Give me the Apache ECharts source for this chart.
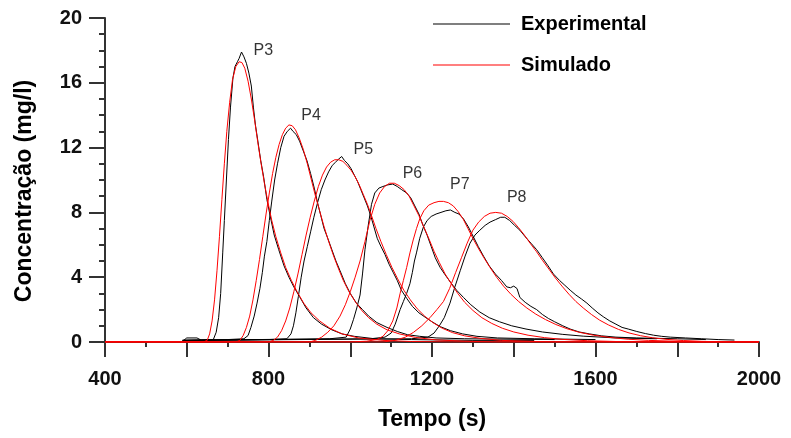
<!DOCTYPE html>
<html>
<head>
<meta charset="utf-8">
<script src="https://cdn.jsdelivr.net/npm/echarts@6/dist/echarts.min.js"></script>
<style>
  html, body { margin: 0; padding: 0; background: #fff; }
  #chart { width: 791px; height: 438px; }
</style>
</head>
<body>
<div id="chart"></div>
<script>
// Tracer breakthrough curves, points P3..P8: measured vs simulated concentration.
// Each curve is a list of [time (s), concentration (mg/l)] pairs.

const expP3 = [[590,0.05],[600,0.25],[625,0.25],[635,0.12],[665,0.15],[672,0.6],[678,1.5],[683,3],[688,5.5],[692,7.5],[697,10],[702,12.5],[707,14.5],[713,16.3],[718,17.0],[724,17.3],[728,17.5],[734,17.9],[740,17.6],[746,17.2],[752,16.6],[758,15.8],[763,14.5],[768,13.4],[774,12.4],[781,11.2],[788,10.2],[796,8.8],[804,7.8],[814,6.6],[825,5.7],[838,4.7],[850,4.0],[862,3.4],[876,2.8],[892,2.1],[910,1.5],[930,1.1],[955,0.75],[980,0.5],[1010,0.35],[1060,0.2],[1150,0.15],[1300,0.1],[1450,0.1]];
const simP3 = [[400,0],[640,0],[650,0.1],[656,0.5],[662,1.3],[668,2.6],[674,4.4],[680,6.5],[686,8.8],[692,11.0],[698,13.0],[705,14.8],[712,16.2],[720,17.0],[728,17.3],[735,17.25],[742,16.9],[750,16.1],[758,15.0],[766,13.7],[774,12.3],[782,11.0],[790,9.8],[798,8.7],[808,7.5],[818,6.5],[830,5.5],[842,4.6],[856,3.8],[870,3.1],[886,2.4],[904,1.8],[925,1.3],[950,0.85],[980,0.5],[1020,0.25],[1080,0.1],[1150,0.03],[1250,0],[2000,0]];

const expP4 = [[590,0.1],[700,0.15],[740,0.2],[750,0.4],[757,0.9],[765,1.6],[772,2.4],[779,3.3],[785,4.3],[790,5.3],[796,6.2],[802,7.5],[808,8.7],[815,10.0],[822,11.0],[830,12.0],[838,12.7],[846,13.0],[854,13.2],[860,13.0],[868,12.8],[876,12.4],[885,11.8],[894,11.2],[903,10.4],[912,9.5],[920,8.6],[928,7.8],[936,7.0],[945,6.4],[955,5.7],[965,5.0],[975,4.4],[988,3.6],[1000,3.0],[1015,2.4],[1030,2.0],[1045,1.6],[1065,1.2],[1090,0.9],[1115,0.65],[1140,0.45],[1170,0.35],[1210,0.25],[1280,0.2],[1500,0.15]];
const simP4 = [[400,0],[720,0],[730,0.1],[738,0.4],[746,0.9],[754,1.6],[762,2.6],[770,3.8],[778,5.1],[786,6.5],[794,7.9],[802,9.2],[810,10.4],[818,11.4],[826,12.2],[834,12.8],[842,13.2],[850,13.4],[858,13.35],[866,13.1],[875,12.6],[885,11.9],[895,11.0],[905,10.0],[915,9.0],[925,8.1],[935,7.2],[946,6.3],[958,5.4],[970,4.6],[983,3.8],[997,3.1],[1012,2.5],[1028,1.95],[1045,1.5],[1065,1.1],[1090,0.75],[1120,0.5],[1160,0.28],[1210,0.13],[1280,0.05],[1350,0],[2000,0]];

const expP5 = [[590,0.1],[800,0.15],[845,0.2],[855,0.5],[861,1.0],[867,1.8],[873,2.8],[880,4.0],[887,5.0],[895,5.9],[903,6.8],[911,7.7],[920,8.6],[929,9.4],[938,10.0],[947,10.5],[956,10.9],[964,11.1],[972,11.3],[979,11.45],[986,11.2],[994,11.0],[1002,10.7],[1010,10.3],[1018,9.9],[1026,9.4],[1034,8.9],[1042,8.4],[1050,7.8],[1058,7.1],[1066,6.4],[1075,5.9],[1085,5.4],[1095,4.8],[1105,4.3],[1115,3.8],[1125,3.2],[1138,2.7],[1152,2.2],[1168,1.8],[1185,1.5],[1200,1.25],[1220,0.95],[1245,0.7],[1275,0.5],[1310,0.35],[1360,0.25],[1450,0.2],[1600,0.15]];
const simP5 = [[400,0],[800,0],[812,0.1],[822,0.3],[832,0.7],[842,1.3],[852,2.1],[862,3.1],[872,4.2],[882,5.4],[892,6.6],[902,7.7],[912,8.7],[922,9.6],[932,10.3],[942,10.8],[952,11.1],[962,11.25],[972,11.25],[982,11.15],[992,10.9],[1002,10.6],[1012,10.2],[1022,9.7],[1032,9.1],[1042,8.5],[1052,7.8],[1063,7.0],[1075,6.2],[1088,5.4],[1102,4.6],[1116,3.9],[1131,3.2],[1147,2.6],[1164,2.05],[1182,1.6],[1202,1.2],[1225,0.85],[1250,0.58],[1280,0.38],[1320,0.22],[1370,0.1],[1440,0.04],[1500,0],[2000,0]];

const expP6 = [[590,0.1],[950,0.2],[990,0.3],[1000,0.8],[1008,1.4],[1016,2.1],[1024,2.9],[1030,4.2],[1036,5.7],[1044,7.2],[1052,8.5],[1060,9.2],[1070,9.5],[1080,9.6],[1092,9.7],[1104,9.75],[1115,9.6],[1126,9.4],[1138,9.2],[1148,8.9],[1158,8.4],[1168,7.9],[1178,7.2],[1188,6.6],[1198,5.9],[1208,5.2],[1220,4.6],[1232,4.15],[1245,3.7],[1260,3.2],[1277,2.75],[1295,2.3],[1317,1.85],[1340,1.5],[1365,1.25],[1395,1.0],[1430,0.8],[1470,0.62],[1520,0.47],[1570,0.36],[1650,0.25],[1750,0.2]];
const simP6 = [[400,0],[900,0],[915,0.1],[930,0.3],[945,0.6],[960,1.0],[975,1.6],[988,2.3],[1000,3.1],[1012,4.0],[1024,5.0],[1036,6.2],[1048,7.5],[1060,8.5],[1072,9.2],[1084,9.6],[1096,9.8],[1108,9.8],[1120,9.65],[1132,9.4],[1144,9.0],[1156,8.4],[1168,7.8],[1180,7.1],[1192,6.4],[1205,5.6],[1218,4.9],[1232,4.2],[1247,3.6],[1263,3.0],[1280,2.45],[1300,1.95],[1322,1.5],[1346,1.15],[1372,0.85],[1400,0.62],[1435,0.42],[1475,0.27],[1520,0.16],[1580,0.08],[1650,0.03],[1720,0],[2000,0]];

const expP7 = [[590,0.1],[1050,0.2],[1085,0.3],[1100,0.55],[1110,1.1],[1122,2.0],[1130,2.5],[1138,3.0],[1146,3.6],[1152,4.3],[1157,5.0],[1162,5.5],[1170,6.4],[1179,7.1],[1188,7.5],[1198,7.75],[1210,7.9],[1222,8.0],[1234,8.1],[1245,8.15],[1256,8.0],[1266,7.9],[1277,7.6],[1289,7.1],[1301,6.5],[1313,5.9],[1326,5.3],[1340,4.7],[1355,4.2],[1370,3.8],[1383,3.4],[1392,3.35],[1400,3.45],[1408,3.3],[1415,2.75],[1428,2.45],[1442,2.2],[1456,2.0],[1470,1.7],[1485,1.45],[1500,1.25],[1520,1.0],[1538,0.8],[1560,0.62],[1585,0.5],[1615,0.38],[1650,0.3],[1700,0.25],[1800,0.2],[1870,0.15]];
const simP7 = [[400,0],[1000,0],[1040,0.05],[1065,0.15],[1080,0.35],[1092,0.7],[1104,1.3],[1114,2.1],[1122,3.0],[1130,3.8],[1138,4.6],[1146,5.5],[1154,6.3],[1162,7.0],[1170,7.6],[1180,8.1],[1192,8.45],[1205,8.6],[1217,8.68],[1228,8.68],[1240,8.6],[1252,8.4],[1264,8.05],[1276,7.6],[1288,7.0],[1300,6.4],[1313,5.8],[1327,5.2],[1342,4.6],[1358,4.0],[1375,3.45],[1393,2.95],[1412,2.5],[1432,2.1],[1454,1.72],[1478,1.38],[1503,1.08],[1530,0.82],[1560,0.6],[1595,0.42],[1635,0.28],[1680,0.17],[1730,0.1],[1790,0.05],[1850,0],[2000,0]];

const expP8 = [[590,0.1],[1150,0.2],[1190,0.3],[1205,0.55],[1218,1.0],[1230,1.5],[1244,2.4],[1256,3.4],[1269,4.4],[1281,5.3],[1293,6.1],[1305,6.6],[1317,6.9],[1330,7.2],[1342,7.4],[1355,7.55],[1368,7.7],[1378,7.7],[1390,7.5],[1402,7.2],[1415,6.9],[1428,6.5],[1442,6.1],[1456,5.7],[1470,5.2],[1484,4.7],[1497,4.2],[1512,3.8],[1525,3.5],[1538,3.2],[1552,2.9],[1566,2.65],[1579,2.4],[1592,2.1],[1606,1.8],[1619,1.56],[1635,1.3],[1650,1.1],[1665,0.9],[1680,0.8],[1701,0.65],[1722,0.52],[1742,0.42],[1762,0.35],[1783,0.3],[1820,0.25],[1860,0.2],[1900,0.15],[1940,0.12]];
const simP8 = [[400,0],[1080,0],[1110,0.1],[1135,0.3],[1155,0.6],[1175,1.0],[1195,1.5],[1212,2.0],[1228,2.5],[1243,3.3],[1258,4.3],[1272,5.2],[1286,6.1],[1300,6.9],[1314,7.4],[1328,7.75],[1342,7.95],[1356,8.0],[1370,7.95],[1384,7.75],[1398,7.45],[1412,7.05],[1426,6.6],[1440,6.1],[1455,5.6],[1470,5.05],[1486,4.5],[1502,3.95],[1518,3.45],[1535,2.95],[1552,2.5],[1570,2.1],[1590,1.7],[1610,1.35],[1632,1.05],[1656,0.78],[1682,0.56],[1710,0.39],[1740,0.26],[1775,0.16],[1815,0.09],[1860,0.04],[1910,0.01],[1950,0],[2000,0]];

// Point names and where their tags sit, in axis units (time, concentration)
const pointNames = ['P3', 'P4', 'P5', 'P6', 'P7', 'P8'];
const tagTime = [762, 879, 1007, 1127, 1243, 1382];
const tagConc = [18.0, 14.0, 11.9, 10.4, 9.7, 8.9];

const experimental = [expP3, expP4, expP5, expP6, expP7, expP8];
const simulated = [simP3, simP4, simP5, simP6, simP7, simP8];

const FONT = "'Liberation Sans', Arial, Helvetica, sans-serif";
const AXIS_COLOR = '#333';

const series = [];
experimental.forEach(d => series.push({
  name: 'Experimental', type: 'line', data: d, symbol: 'none',
  lineStyle: { color: '#000', width: 1 }, itemStyle: { color: '#000' }, z: 2
}));
simulated.forEach(d => series.push({
  name: 'Simulado', type: 'line', data: d, symbol: 'none',
  lineStyle: { color: '#ff0000', width: 1 }, itemStyle: { color: '#ff0000' }, z: 3
}));
series.push({
  name: 'tags', type: 'scatter', symbolSize: 1, silent: true,
  itemStyle: { color: 'rgba(0,0,0,0)' },
  data: pointNames.map((n, i) => ({ name: n, value: [tagTime[i], tagConc[i]] })),
  label: {
    show: true, position: 'right', distance: 0, formatter: p => p.name,
    fontFamily: FONT, fontSize: 16, color: '#000'
  },
  z: 4
});

const chart = echarts.init(document.getElementById('chart'), null, { renderer: 'canvas' });
chart.setOption({
  animation: false,
  backgroundColor: '#fff',
  grid: { left: 105, right: 32, top: 18, bottom: 96, containLabel: false },
  legend: {
    data: [
      { name: 'Experimental', icon: 'rect', itemStyle: { color: '#000' } },
      { name: 'Simulado', icon: 'rect', itemStyle: { color: '#ff0000' } }
    ],
    orient: 'vertical', left: 433, top: 14, padding: 0,
    itemWidth: 77, itemHeight: 1.2, itemGap: 21,
    textStyle: { fontFamily: FONT, fontSize: 20, fontWeight: 'bold', color: '#000', lineHeight: 20, padding: [0, 0, 0, 6] }
  },
  xAxis: {
    type: 'value', min: 400, max: 2000, interval: 200,
    name: 'Tempo (s)', nameLocation: 'middle', nameGap: 66,
    nameTextStyle: { fontFamily: FONT, fontSize: 23, fontWeight: 'bold', color: '#000' },
    axisLine: { show: true, lineStyle: { color: AXIS_COLOR, width: 2 } },
    axisTick: { show: true, length: 15, lineStyle: { color: AXIS_COLOR, width: 2 } },
    minorTick: { show: true, splitNumber: 2, length: 5, lineStyle: { color: AXIS_COLOR, width: 2 } },
    axisLabel: {
      fontFamily: FONT, fontSize: 20, fontWeight: 'bold', color: '#111', margin: 27,
      formatter: v => (v % 400 === 0 ? String(v) : '')
    },
    splitLine: { show: false }, minorSplitLine: { show: false }
  },
  yAxis: {
    type: 'value', min: 0, max: 20, interval: 4,
    name: 'Concentração (mg/l)', nameLocation: 'middle', nameGap: 69, nameRotate: 90,
    nameTextStyle: { fontFamily: FONT, fontSize: 23, fontWeight: 'bold', color: '#000', padding: [0, 22, 0, 0] },
    axisLine: { show: true, lineStyle: { color: AXIS_COLOR, width: 2 } },
    axisTick: { show: true, length: 16, lineStyle: { color: AXIS_COLOR, width: 2 } },
    minorTick: { show: true, splitNumber: 4, length: 6, lineStyle: { color: AXIS_COLOR, width: 2 } },
    axisLabel: { fontFamily: FONT, fontSize: 20, fontWeight: 'bold', color: '#111', margin: 23 },
    splitLine: { show: false }, minorSplitLine: { show: false }
  },
  series: series
});
</script>
</body>
</html>
